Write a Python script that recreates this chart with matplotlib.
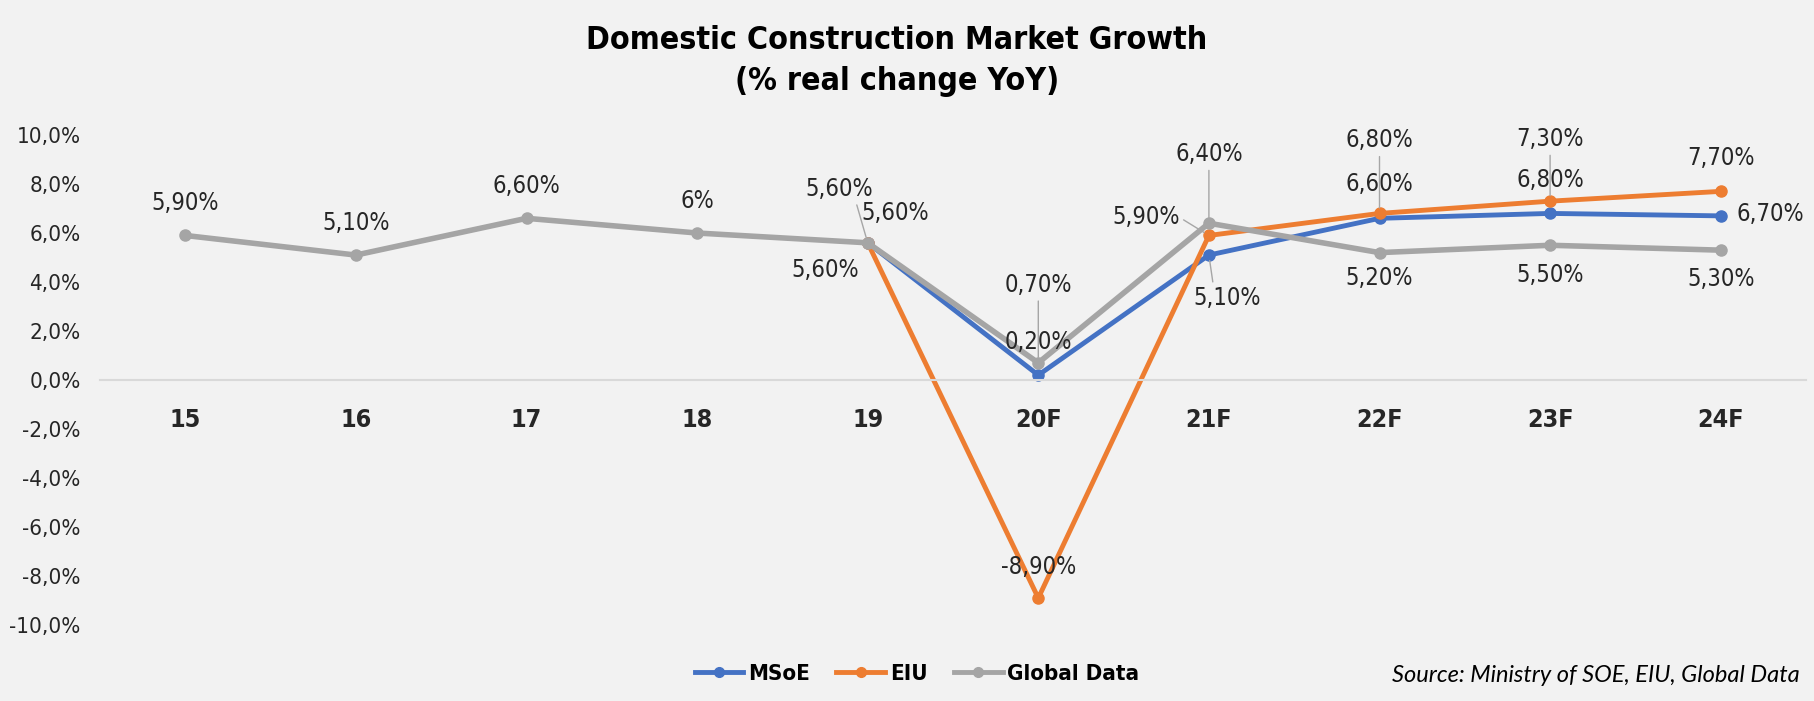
import numpy as np
import matplotlib.pyplot as plt
from matplotlib.lines import Line2D

years = ["15", "16", "17", "18", "19", "20F", "21F", "22F", "23F", "24F"]
msoe = [np.nan, np.nan, np.nan, np.nan, 5.6, 0.2, 5.1, 6.6, 6.8, 6.7]
eiu = [np.nan, np.nan, np.nan, np.nan, 5.6, -8.9, 5.9, 6.8, 7.3, 7.7]
global_data = [5.9, 5.1, 6.6, 6.0, 5.6, 0.7, 6.4, 5.2, 5.5, 5.3]
y_ticks = [-10, -8, -6, -4, -2, 0, 2, 4, 6, 8, 10]

NARROW = ['Liberation Sans Narrow', 'DejaVu Sans']
STRETCH = 'condensed'
BLUE, ORANGE, GRAY = '#4472C4', '#ED7D31', '#A5A5A5'
BG = '#F2F2F2'

# label offsets in pixels (dx, dy, leader line) per point index
off_msoe = {4: (27, 30, False), 5: (0, 33, False), 6: (18, -43, True),
            7: (0, 34, False), 8: (0, 33, False), 9: (50, 2, False)}
off_eiu = {4: (-43, -27, False), 5: (0, 31, False), 6: (-63, 18, True),
           7: (0, 73, True), 8: (0, 62, True), 9: (0, 33, False)}
off_glob = {0: (0, 32, False), 1: (0, 32, False), 2: (0, 32, False), 3: (0, 32, False),
            4: (-29, 54, True), 5: (0, 78, True), 6: (0, 69, True),
            7: (0, -25, False), 8: (0, -30, False), 9: (0, -29, False)}


def fmt(v):
    if v == int(v):
        return f"{int(v)}%"
    return f"{v:.2f}%".replace('.', ',')


fig = plt.figure(figsize=(18.15, 7.01), dpi=100, facecolor=BG)
ax = fig.add_axes([100 / 1815, 0.1084, 1706 / 1815, 0.699])
ax.set_facecolor(BG)

x = np.arange(len(years))
for vals, col, lw in [(msoe, BLUE, 3.5), (eiu, ORANGE, 3.5), (global_data, GRAY, 4)]:
    ax.plot(x, vals, color=col, lw=lw, marker='o', ms=8, solid_capstyle='round')

for vals, offs in [(msoe, off_msoe), (eiu, off_eiu), (global_data, off_glob)]:
    for i, (dx, dy, lead) in offs.items():
        v = vals[i]
        kw = {}
        if lead:
            if abs(dx) > abs(dy):
                rel = (1.0 if dx < 0 else 0.0, 0.5)
            elif dy > 0:
                rel = (0.5 if dx == 0 else 0.75, 0.0)
            else:
                rel = (0.3, 1.0)
            kw['arrowprops'] = dict(arrowstyle='-', color='#A6A6A6', lw=1,
                                    shrinkA=1, shrinkB=4, relpos=rel)
        ax.annotate(fmt(v), (i, v), xytext=(dx, dy), textcoords='offset pixels',
                    ha='center', va='center', fontsize=17, color='#262626',
                    family=NARROW, fontstretch=STRETCH, **kw)

ax.set_xlim(-0.5, len(years) - 0.5)
ax.set_ylim(-10, 10)
for s in ['top', 'right', 'left']:
    ax.spines[s].set_visible(False)
ax.spines['bottom'].set_position(('data', 0))
ax.spines['bottom'].set_color('#D9D9D9')
ax.spines['bottom'].set_linewidth(1.5)

ax.set_yticks(y_ticks)
ax.set_yticklabels([f"{t:.1f}%".replace('.', ',') for t in y_ticks],
                   fontsize=16, color='#262626', family=NARROW, fontstretch=STRETCH)
ax.set_xticks(x)
ax.set_xticklabels(years, fontsize=18, fontweight='bold', color='#262626',
                   family=NARROW, fontstretch=STRETCH)
ax.tick_params(axis='both', length=0)
ax.tick_params(axis='y', pad=14)
ax.tick_params(axis='x', pad=20)

fig.text(897 / 1815, 1 - 61 / 701, "Domestic Construction Market Growth\n(% real change YoY)",
         ha='center', va='center', fontsize=23, fontweight='bold', family=NARROW,
         fontstretch=STRETCH, linespacing=1.4)

handles = [Line2D([], [], color=c, lw=3.5, marker='o', ms=7) for c in (BLUE, ORANGE, GRAY)]
fig.legend(handles, ["MSoE", "EIU", "Global Data"], loc='center',
           bbox_to_anchor=(917 / 1815, 1 - 674 / 701), ncol=3, frameon=False,
           prop={'family': NARROW, 'weight': 'bold', 'size': 16, 'stretch': STRETCH},
           handlelength=2.2, handletextpad=0.2, columnspacing=1.2)

fig.text(1800 / 1815, 1 - 676 / 701, "Source: Ministry of SOE, EIU, Global Data",
         ha='right', va='center', fontsize=17, style='italic', family=['Lato', 'DejaVu Sans'])

fig.savefig('out.png', dpi=100, facecolor=BG)
